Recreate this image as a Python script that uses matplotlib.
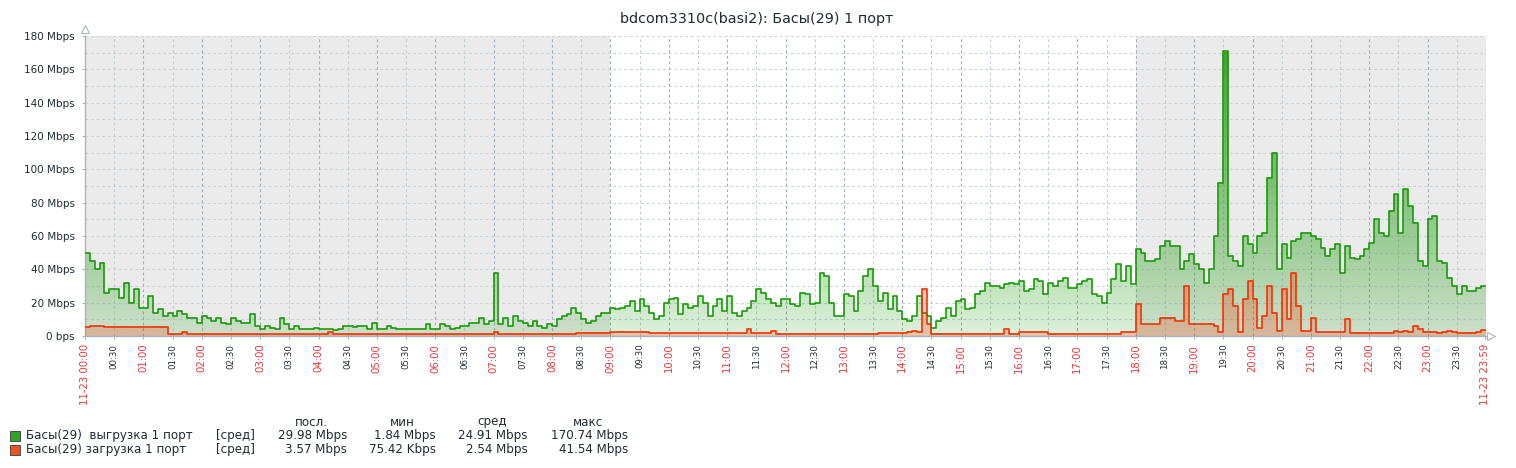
import numpy as np
import matplotlib.pyplot as plt
from matplotlib.colors import to_rgb

# значения каждые 5 минут, Mbps (по часам: 12 значений в строке)
upload = [
    50, 45, 40, 44, 26, 28, 28, 23, 32, 20, 28, 17,      # 00
    17, 24, 14, 16, 12, 14, 12, 15, 13, 11, 11, 8,       # 01
    12, 11, 9, 11, 8, 7, 11, 9, 8, 8, 13, 6,             # 02
    4, 6, 5, 4, 11, 7, 4, 6, 4, 4, 4, 5,                 # 03
    4, 4, 4.5, 3.5, 4, 6, 6, 5.5, 6, 6, 4, 8,            # 04
    4, 4, 6, 5, 4.5, 4, 4.5, 4, 4, 4, 7, 4,              # 05
    4, 7, 6, 4, 5, 6, 6, 8, 8, 11, 7, 9,                 # 06
    38, 7, 11, 6, 12, 9, 8, 6, 9, 6, 5, 7,               # 07
    6, 10, 12, 13, 17, 14, 10, 8, 9, 12, 14, 14,         # 08
    17, 16, 17, 18, 21, 15, 22, 18, 14, 10, 12, 20,      # 09
    22, 23, 13, 19, 17, 18, 24, 20, 12, 18, 22, 15,      # 10
    24, 14, 12, 15, 17, 21, 28, 26, 22, 20, 18, 22,      # 11
    22, 19, 18, 26, 25, 19, 20, 38, 36, 20, 12, 12,      # 12
    25, 24, 15, 27, 36, 40, 30, 21, 26, 16, 24, 15,      # 13
    10, 9, 12, 24, 14, 12, 5, 9, 11, 17, 12, 21,         # 14
    22, 16, 17, 25, 27, 32, 30, 30, 29, 31, 32, 31,      # 15
    33, 27, 28, 34, 33, 25, 32, 30, 33, 35, 29, 29,      # 16
    31, 33, 34, 25, 24, 20, 26, 34, 43, 33, 42, 31,      # 17
    52, 50, 45, 45, 46, 54, 57, 54, 54, 40, 45, 49,      # 18
    43, 40, 32, 40, 60, 92, 170.74, 48, 45, 42, 60, 55,  # 19
    50, 60, 62, 95, 110, 40, 55, 47, 57, 58, 62, 62,     # 20
    60, 58, 53, 48, 52, 55, 38, 54, 47, 46, 48, 52,      # 21
    56, 70, 62, 60, 75, 85, 62, 88, 78, 68, 45, 42,      # 22
    70, 72, 45, 44, 35, 30, 25, 30, 27, 27, 29, 29.98,   # 23
]
download = [
    5.5, 6, 6, 6, 5.5, 5.5, 5.5, 5.5, 5.5, 5.5, 5.5, 5.5,
    5.5, 5.5, 5.5, 5.5, 5.5, 1.2, 1.2, 1.2, 2.5, 1.2, 1.2, 1.2,
    1.2, 1.2, 1.2, 1.2, 1.2, 1.2, 1.2, 1.2, 1.2, 1.2, 1.2, 1.2,
    1.2, 1.2, 1.2, 1.2, 1.2, 1.2, 1.2, 1.2, 1.2, 1.2, 1.2, 1.2,
    1.2, 1.2, 2.2, 1.2, 1.2, 1.2, 1.2, 1.2, 1.2, 1.2, 1.2, 1.2,
    1.2, 1.2, 1.2, 1.2, 1.2, 1.2, 1.2, 1.2, 1.2, 1.2, 1.2, 1.2,
    1.2, 1.2, 1.2, 1.2, 1.2, 1.2, 1.2, 1.2, 1.2, 1.2, 1.2, 1.2,
    2.2, 1.2, 1.2, 1.2, 1.2, 1.2, 1.2, 1.2, 1.2, 1.2, 1.2, 1.2,
    1.2, 1.2, 1.2, 1.2, 1.2, 2.0, 2.0, 2.0, 2.0, 2.0, 2.0, 2.0,
    2.5, 2.5, 2.5, 2.5, 2.5, 2.5, 2.5, 2.5, 1.6, 1.6, 1.6, 1.6,
    1.6, 1.6, 1.6, 1.6, 1.6, 1.6, 1.6, 1.6, 1.6, 1.6, 1.6, 1.6,
    1.6, 1.6, 1.6, 1.6, 4.5, 2, 2, 2, 2, 3, 1.2, 1.2,
    1.2, 1.2, 1.2, 1.2, 1.2, 1.2, 1.2, 1.2, 1.2, 1.2, 1.2, 1.2,
    1.2, 1.2, 1.2, 1.2, 1.2, 1.2, 1.2, 2, 2, 2, 2, 2,
    2, 2.5, 3, 2.5, 28, 7, 1.5, 1.5, 1.5, 1.5, 1.5, 1.5,
    1.5, 1.5, 1.5, 1.5, 1.5, 1.5, 1.5, 1.5, 1.5, 4, 1.5, 1.5,
    2.5, 2.5, 2.5, 2.5, 2.5, 2.5, 1.4, 1.4, 1.4, 1.4, 1.4, 1.4,
    1.4, 1.4, 1.4, 1.4, 1.4, 1.4, 1.4, 1.4, 1.4, 2.5, 2.5, 2.5,
    19, 7, 7, 7, 7, 11, 11, 11, 9, 9, 30, 7,
    7, 7, 7, 7, 6, 2.5, 25, 28, 18, 2.5, 22, 33,
    22, 5, 12, 30, 14, 3, 28, 10, 38, 18, 3, 3,
    11, 2.5, 2.5, 2.5, 2.5, 2.5, 2.5, 10, 2, 2, 2, 2,
    2, 2, 2, 2, 2, 3, 2.5, 3, 2.5, 6, 4, 2.5,
    2.5, 2.5, 2, 2.5, 3, 2.5, 2, 2, 2, 2, 2.5, 3.57,
]

ytick_vals = [0, 20, 40, 60, 80, 100, 120, 140, 160, 180]
ytick_labels = ['0 bps', '20 Mbps', '40 Mbps', '60 Mbps', '80 Mbps', '100 Mbps',
                '120 Mbps', '140 Mbps', '160 Mbps', '180 Mbps']
xtick_labels = (['11-23 00:00'] + [f'{h:02d}:{m:02d}' for h in range(24) for m in (0, 30)][1:]
                + ['11-23 23:59'])

legend_names = ['Басы(29)  выгрузка 1 порт', 'Басы(29) загрузка 1 порт']
legend_cols = ['посл.', 'мин', 'сред', 'макс']
legend_vals = [['29.98 Mbps', '1.84 Mbps', '24.91 Mbps', '170.74 Mbps'],
               ['3.57 Mbps', '75.42 Kbps', '2.54 Mbps', '41.54 Mbps']]

GREEN = '#1a9a0a'
RED = '#f63100'
TXT = '#1f2c33'
W, H = 1516, 468

fig = plt.figure(figsize=(W / 100, H / 100), dpi=100)
fig.patch.set_facecolor('white')
ax = fig.add_axes([85 / W, 132 / H, 1401 / W, 300 / H])
ax.set_xlim(0, 24)
ax.set_ylim(0, 180)

# нерабочее время серым
ax.axvspan(0, 9, color='#ebebeb', lw=0, zorder=0)
ax.axvspan(18, 24, color='#ebebeb', lw=0, zorder=0)

# сетка
for v in range(10, 181, 10):
    ax.axhline(v, color='#cbd3d9', lw=0.8, ls=(0, (2.5, 2.5)), zorder=1)
for i in range(1, 49):
    hour = i % 2 == 0
    ax.axvline(i * 0.5, color='#9fb0bb' if hour else '#c4ced5', lw=0.8,
               ls=(0, (2.5, 2.5)), zorder=1)

t = np.arange(len(upload)) * 5 / 60
t_ext = np.append(t, 24)


def gradient_fill(vals, color, a0, a1, z):
    y = np.append(vals, vals[-1])
    poly = ax.fill_between(t_ext, 0, y, step='post', facecolor='none', edgecolor='none')
    img = np.zeros((256, 1, 4))
    img[:, 0, :3] = to_rgb(color)
    img[:, 0, 3] = np.linspace(a0, a1, 256)
    im = ax.imshow(img, extent=[0, 24, 0, 180], origin='lower', aspect='auto',
                   interpolation='bilinear', zorder=z)
    im.set_clip_path(poly.get_paths()[0], ax.transData)
    ax.step(t_ext, y, where='post', color=color, lw=1.2, zorder=z + 2)


gradient_fill(upload, GREEN, 0.14, 0.88, 2)
gradient_fill(download, RED, 0.22, 0.6, 3)
ax.set_xlim(0, 24)
ax.set_ylim(0, 180)

# оси
for s in ['top', 'right']:
    ax.spines[s].set_visible(False)
for s in ['left', 'bottom']:
    ax.spines[s].set_color('#a9b5be')
    ax.spines[s].set_linewidth(1)
ax.plot([0], [1.025], marker='^', ms=6, mfc='white', mec='#a9b5be', mew=0.8,
        transform=ax.transAxes, clip_on=False)
ax.plot([1.0035], [0], marker='>', ms=6, mfc='white', mec='#a9b5be', mew=0.8,
        transform=ax.transAxes, clip_on=False)

ax.set_yticks(ytick_vals)
ax.set_yticklabels(ytick_labels, fontsize=7.5, color=TXT)
ax.tick_params(axis='y', length=2.5, width=0.8, color='#a9b5be', pad=5)

xpos = list(np.arange(48) * 0.5) + [23 + 59 / 60]
ax.set_xticks(xpos)
ax.set_xticklabels(xtick_labels, rotation=90)
ax.tick_params(axis='x', length=2.5, width=0.8, color='#a9b5be', pad=3)
for i, lab in enumerate(ax.get_xticklabels()):
    if i % 2 == 0 or i == len(xpos) - 1:
        lab.set_color('#e03a3a')
        lab.set_fontsize(7.3)
    else:
        lab.set_color(TXT)
        lab.set_fontsize(6.2)

fig.text(757 / W, 1 - 19 / H, 'bdcom3310c(basi2): Басы(29) 1 порт',
         ha='center', va='center', fontsize=10.4, color=TXT)

# легенда
col_centers = [311, 402, 492, 588]
col_right = [347, 436, 528, 628]
for c, name in zip(col_centers, legend_cols):
    fig.text(c / W, 1 - 422 / H, name, ha='center', va='center', fontsize=8.6, color=TXT)
for r, (name, color, vals) in enumerate(zip(legend_names, [GREEN, RED], legend_vals)):
    yc = 436 + r * 14
    fig.patches.append(plt.Rectangle((10 / W, 1 - (yc + 5) / H), 10 / W, 10 / H,
                                     facecolor='#2fa52a' if r == 0 else '#f2521f',
                                     edgecolor='#3a3a3a', lw=0.6,
                                     transform=fig.transFigure, figure=fig))
    fig.text(26 / W, 1 - yc / H, name, ha='left', va='center', fontsize=8.6, color=TXT)
    fig.text(216 / W, 1 - yc / H, '[сред]', ha='left', va='center', fontsize=8.6, color=TXT)
    for x, v in zip(col_right, vals):
        fig.text(x / W, 1 - yc / H, v, ha='right', va='center', fontsize=8.6, color=TXT)

fig.savefig('out.png', dpi=100)
